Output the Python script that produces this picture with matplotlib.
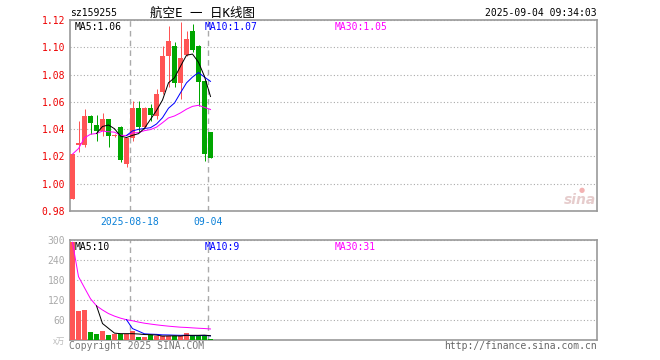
import matplotlib
matplotlib.use('Agg')
import matplotlib.pyplot as plt
import numpy as np
import pandas as pd

# ---------------- data ----------------
opens  = [0.9890, 1.0283, 1.0283, 1.0493, 1.0431, 1.0389, 1.0475, 1.0350,
          1.0414, 1.0143, 1.0335, 1.0554, 1.0414, 1.0556, 1.0495, 1.0672,
          1.0936, 1.1012, 1.0739, 1.0943, 1.1116, 1.1012, 1.0751, 1.0377]
closes = [1.0217, 1.0298, 1.0493, 1.0443, 1.0389, 1.0475, 1.0352, 1.0356,
          1.0175, 1.0335, 1.0554, 1.0414, 1.0556, 1.0500, 1.0660, 1.0936,
          1.1047, 1.0739, 1.0924, 1.1062, 1.0980, 1.0746, 1.0217, 1.0192]
highs  = [1.0217, 1.0463, 1.0544, 1.0500, 1.0505, 1.0520, 1.0475, 1.0362,
          1.0421, 1.0335, 1.0603, 1.0603, 1.0560, 1.0583, 1.0692, 1.1012,
          1.1153, 1.1042, 1.1185, 1.1116, 1.1170, 1.1017, 1.0759, 1.0382]
lows   = [0.9890, 1.0229, 1.0266, 1.0365, 1.0315, 1.0352, 1.0266, 1.0345,
          1.0160, 1.0126, 1.0315, 1.0377, 1.0410, 1.0463, 1.0475, 1.0660,
          1.0709, 1.0709, 1.0623, 1.0937, 1.0968, 1.0569, 1.0167, 1.0185]
volumes = [293, 87, 90, 25, 18, 27, 15, 18, 17, 18, 27, 10, 10, 15, 12, 12,
           12, 12, 12, 22, 12, 12, 15, 3]

price_ticks = [0.98, 1.00, 1.02, 1.04, 1.06, 1.08, 1.10, 1.12]
price_tick_labels = ['0.98', '1.00', '1.02', '1.04', '1.06', '1.08', '1.10', '1.12']
vol_ticks = [60, 120, 180, 240, 300]
vol_tick_labels = ['60', '120', '180', '240', '300']
date_tick_idx = [10, 23]
date_tick_labels = ['2025-08-18', '09-04']

code_text = 'sz159255'
title_text = '航空E 一 日K线图'
time_text = '2025-09-04 09:34:03'
price_ma_texts = ['MA5:1.06', 'MA10:1.07', 'MA30:1.05']
vol_ma_texts = ['MA5:10', 'MA10:9', 'MA30:31']

# ---------------- style ----------------
W, H = 660, 360
DPI = 100
RED = '#ff5555'
GREEN = '#00a600'
MA_COLORS = ['#000000', '#0000ff', '#ff00ff']
GRID = '#aaaaaa'
FRAME = '#999999'
MONO = 'DejaVu Sans Mono'
FS = 7.0
PX = 72.0 / DPI  # one pixel in points

def fx(x):
    return x / W

def fy(y):
    return 1 - y / H

fig = plt.figure(figsize=(W / DPI, H / DPI), dpi=DPI)
fig.patch.set_facecolor('white')

n = len(closes)
idx = np.arange(n)
o = np.array(opens); c = np.array(closes)
hi = np.array(highs); lo = np.array(lows)
v = np.array(volumes)
up = c >= o
cols = [RED if u else GREEN for u in up]

xmin = -2.5 / 6
xmax = xmin + 527 / 6
bw = 5 / 6

# ---------------- price panel ----------------
ax = fig.add_axes([fx(70), fy(211), 527 / W, 191 / H])
ax.set_xlim(xmin, xmax)
ax.set_ylim(0.98, 1.12)
ax.set_yticks(price_ticks)
ax.set_yticklabels(price_tick_labels, family=MONO, fontsize=FS)
ax.tick_params(axis='y', length=0, pad=3.5, labelcolor='#ee0000')
ax.yaxis.grid(True, linestyle=(0, (1, 2)), color=GRID, lw=0.8)
ax.set_xticks([i + xmin for i in date_tick_idx])
ax.set_xticklabels(date_tick_labels, family=MONO, fontsize=FS)
ax.tick_params(axis='x', length=0, pad=4.5, labelcolor='#0a80d8')
for i in date_tick_idx:
    ax.axvline(i + xmin, color=GRID, lw=1.0, ls=(0, (4, 3)), zorder=1)

body_h = np.maximum(np.abs(c - o), 0.0006)
ax.vlines(idx, lo, hi, colors=cols, lw=1.0 * PX, zorder=2)
ax.bar(idx, body_h, bottom=np.minimum(o, c), width=bw, color=cols,
       linewidth=0, zorder=3)

cs = pd.Series(c)
ma5 = cs.rolling(5).mean()
ma10 = cs.rolling(10).mean()
ma30 = cs.expanding().mean()
for ma, col in zip([ma30, ma10, ma5], [MA_COLORS[2], MA_COLORS[1], MA_COLORS[0]]):
    ax.plot(idx, ma.values, color=col, lw=1.0 * PX, zorder=4)

for sp in ax.spines.values():
    sp.set_color(FRAME)
    sp.set_linewidth(1.2)

# ---------------- volume panel ----------------
av = fig.add_axes([fx(70), fy(340), 527 / W, 100 / H])
av.set_xlim(xmin, xmax)
av.set_ylim(0, 300)
av.set_yticks(vol_ticks)
av.set_yticklabels(vol_tick_labels, family=MONO, fontsize=FS)
av.tick_params(axis='y', length=0, pad=3.5, labelcolor='#aaaaaa')
av.yaxis.grid(True, linestyle=(0, (1, 2)), color=GRID, lw=0.8)
av.set_xticks([])
for i in date_tick_idx:
    av.axvline(i + xmin, color=GRID, lw=1.0, ls=(0, (4, 3)), zorder=1)
av.bar(idx, v, width=bw, color=cols, linewidth=0, zorder=3)
vs = pd.Series(v, dtype=float)
vma5 = vs.rolling(5).mean()
vma10 = vs.rolling(10).mean()
vma30 = vs.expanding().mean()
for ma, col in zip([vma30, vma10, vma5], [MA_COLORS[2], MA_COLORS[1], MA_COLORS[0]]):
    av.plot(idx, ma.values, color=col, lw=1.0 * PX, zorder=4)
for sp in av.spines.values():
    sp.set_color(FRAME)
    sp.set_linewidth(1.2)

# ---------------- texts ----------------
fig.text(fx(70), fy(13), code_text, family=MONO, fontsize=FS, color='black',
         ha='left', va='center')
fig.text(fx(203), fy(13), title_text, family=[MONO, 'Noto Sans CJK SC'],
         fontsize=9, color='black', ha='center', va='center')
fig.text(fx(597), fy(13), time_text, family=MONO, fontsize=FS, color='black',
         ha='right', va='center')

ma_x = [75, 205, 335]
for t, xx, col in zip(price_ma_texts, ma_x, MA_COLORS):
    fig.text(fx(xx), fy(27), t, family=MONO, fontsize=FS, color=col,
             ha='left', va='center')
for t, xx, col in zip(vol_ma_texts, ma_x, MA_COLORS):
    fig.text(fx(xx), fy(246.5), t, family=MONO, fontsize=FS, color=col,
             ha='left', va='center')

fig.text(fx(65), fy(341), 'x万', family=['Noto Sans CJK SC', 'DejaVu Sans'],
         fontsize=6, color='#bbbbbb', ha='right', va='center')
fig.text(fx(69), fy(346), 'Copyright 2025 SINA.COM', family=MONO, fontsize=FS,
         color='#777777', ha='left', va='center')
fig.text(fx(597), fy(346), 'http://finance.sina.com.cn', family=MONO, fontsize=FS,
         color='#666666', ha='right', va='center')

# faint sina watermark
fig.text(fx(596), fy(200), 'sina', family='DejaVu Sans', fontsize=10,
         style='italic', weight='bold', color='#e0c0c0', ha='right', va='center',
         alpha=0.8)
fig.text(fx(582), fy(190), '●', family='DejaVu Sans', fontsize=5,
         color='#f0a0a0', ha='center', va='center', alpha=0.8)

fig.savefig('out.png', dpi=DPI, facecolor='white')
